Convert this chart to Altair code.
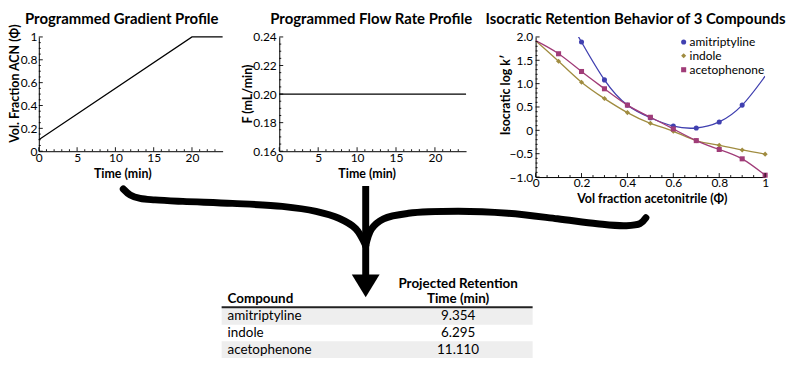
import altair as alt
import pandas as pd

FONT = "Lato"

# ---------------- data ----------------
grad_time = [0, 20, 24]
grad_phi = [0.10, 1.00, 1.00]

flow_time = [0, 24]
flow_rate = [0.20, 0.20]

compounds = ["amitriptyline", "indole", "acetophenone"]
compound_colors = ["#4040b0", "#a08c40", "#a03c78"]
compound_shapes = ["circle", "diamond", "square"]

amit_phi = [0.2, 0.3, 0.4, 0.5, 0.6, 0.7, 0.8, 0.9]
amit_logk = [1.89, 1.08, 0.54, 0.27, 0.09, 0.05, 0.18, 0.54]
indole_phi = [0.1, 0.2, 0.3, 0.4, 0.5, 0.6, 0.7, 0.8, 0.9, 1.0]
indole_logk = [1.48, 1.03, 0.68, 0.38, 0.15, -0.02, -0.22, -0.32, -0.42, -0.51]
aceto_phi = [0.1, 0.2, 0.3, 0.4, 0.5, 0.6, 0.7, 0.8, 0.9, 1.0]
aceto_logk = [1.64, 1.26, 0.89, 0.54, 0.28, 0.03, -0.22, -0.41, -0.61, -0.96]

# fitted curves (knots)
amit_fit_phi = [0.187, 0.2, 0.3, 0.4, 0.5, 0.6, 0.7, 0.8, 0.9, 1.0]
amit_fit_logk = [2.0, 1.89, 1.08, 0.54, 0.27, 0.09, 0.05, 0.18, 0.54, 1.16]
indole_fit_phi = [0.0, 0.1, 0.2, 0.3, 0.4, 0.5, 0.6, 0.7, 0.8, 0.9, 1.0]
indole_fit_logk = [1.92, 1.48, 1.03, 0.68, 0.38, 0.15, -0.02, -0.22, -0.32, -0.42, -0.51]
aceto_fit_phi = [0.0, 0.1, 0.2, 0.3, 0.4, 0.5, 0.6, 0.7, 0.8, 0.9, 1.0]
aceto_fit_logk = [1.92, 1.64, 1.26, 0.89, 0.54, 0.28, 0.03, -0.22, -0.41, -0.61, -0.96]

table_compounds = ["amitriptyline", "indole", "acetophenone"]
table_times = ["9.354", "6.295", "11.110"]

# tick positions
p1_x_major = [0, 5, 10, 15, 20]
p1_x_minor = [1, 2, 3, 4, 6, 7, 8, 9, 11, 12, 13, 14, 16, 17, 18, 19, 21, 22, 23]
p1_y_major = [0, 0.2, 0.4, 0.6, 0.8, 1.0]
p1_y_minor = [0.05, 0.1, 0.15, 0.25, 0.3, 0.35, 0.45, 0.5, 0.55, 0.65, 0.7, 0.75, 0.85, 0.9, 0.95]
p2_y_major = [0.16, 0.18, 0.20, 0.22, 0.24]
p2_y_minor = [0.165, 0.17, 0.175, 0.185, 0.19, 0.195, 0.205, 0.21, 0.215, 0.225, 0.23, 0.235]
p3_x_major = [0, 0.2, 0.4, 0.6, 0.8, 1.0]
p3_x_minor = [0.05, 0.1, 0.15, 0.25, 0.3, 0.35, 0.45, 0.5, 0.55, 0.65, 0.7, 0.75, 0.85, 0.9, 0.95]
p3_y_major = [-1.0, -0.5, 0, 0.5, 1.0, 1.5, 2.0]
p3_y_minor = [-0.9, -0.8, -0.7, -0.6, -0.4, -0.3, -0.2, -0.1, 0.1, 0.2, 0.3, 0.4,
              0.6, 0.7, 0.8, 0.9, 1.1, 1.2, 1.3, 1.4, 1.6, 1.7, 1.8, 1.9]

# brace decoration: centre-line of the two arms, in reference-pixel units
brace_left = [(123, 186), (130, 192), (140, 195.5), (155, 197), (183, 198.5), (233, 200.5),
              (283, 203.5), (317, 208.5), (340, 215.5), (357, 226), (367, 243)]
brace_right = [(367, 243), (373, 226), (385, 216), (410, 210.5), (460, 208.5), (510, 210.5),
               (560, 216), (600, 221), (628, 223), (643, 221), (649, 215)]

# ---------------- layout ----------------
W1, W2, W3 = 185, 188, 231
H1, H3 = 115, 141
GAP12, GAP23 = 57, 70
P2_LEFT, P2_TOP = 280, 33     # reference-pixel position of panel-2 plot area


def rx(xp):
    return xp - P2_LEFT


def ry(yp):
    return yp - P2_TOP


def axis(values, title, tx, ty, label_expr=None, fmt=None, pad=1):
    kw = dict(values=values, ticks=False, grid=False, domainColor="black", domainWidth=1,
              labelColor="black", labelFont=FONT, labelFontSize=12, labelPadding=pad,
              labelFlush=False, labelOverlap=False,
              title=title, titleFont=FONT, titleFontSize=12.5, titleFontWeight="bold",
              titleColor="black", titleX=tx, titleY=ty, titleBaseline="alphabetic",
              titleAlign="center")
    if label_expr:
        kw["labelExpr"] = label_expr
    if fmt:
        kw["format"] = fmt
    return alt.Axis(**kw)


def tick_layers(sx, sy, ax, ay, xmaj, xmin, ymaj, ymin, H):
    out = []
    for vals, L in ((xmaj, 4), (xmin, 2)):
        out.append(alt.Chart(pd.DataFrame({"tx": vals})).mark_rule(color="black", strokeWidth=0.9)
                   .encode(x=alt.X("tx:Q", scale=sx, axis=ax), y=alt.value(H), y2=alt.value(H - L)))
    for vals, L in ((ymaj, 4), (ymin, 2)):
        out.append(alt.Chart(pd.DataFrame({"ty": vals})).mark_rule(color="black", strokeWidth=0.9)
                   .encode(y=alt.Y("ty:Q", scale=sy, axis=ay), x=alt.value(0), x2=alt.value(L)))
    return out


one = pd.DataFrame({"k": [0]})


def panel_title(text, cx):
    return alt.Chart(one).mark_text(text=text, align="center", baseline="alphabetic", font=FONT,
                                    fontSize=15, fontWeight="bold", color="black").encode(
        x=alt.value(cx), y=alt.value(-13.5))


# ---------------- panel 1 ----------------
sx1 = alt.Scale(domain=[0, 24], nice=False, zero=False)
sy1 = alt.Scale(domain=[0, 1], nice=False, zero=False)
ax1x = axis(p1_x_major, "Time (min)", 84, 26)
ax1y = axis(p1_y_major, "Vol. Fraction ACN (Φ)", -20.5, 46.5,
            "datum.value == 0 ? '0' : datum.value == 1 ? '1' : format(datum.value, '.1f')", pad=2)
df1 = pd.DataFrame({"time": grad_time, "phi": grad_phi})
line1 = alt.Chart(df1).mark_line(color="black", strokeWidth=1.2).encode(
    x=alt.X("time:Q", scale=sx1, axis=ax1x), y=alt.Y("phi:Q", scale=sy1, axis=ax1y))
p1 = alt.layer(line1, *tick_layers(sx1, sy1, ax1x, ax1y, p1_x_major, p1_x_minor,
                                   p1_y_major, p1_y_minor, H1),
               panel_title("Programmed Gradient Profile", 83.5)
               ).properties(width=W1, height=H1)

# ---------------- panel 2 ----------------
sx2 = alt.Scale(domain=[0, 24], nice=False, zero=False)
sy2 = alt.Scale(domain=[0.16, 0.24], nice=False, zero=False)
ax2x = axis(p1_x_major, "Time (min)", 88, 26)
ax2y = axis(p2_y_major, "F (mL/min)", -28, 57, fmt=".2f", pad=3)
df2 = pd.DataFrame({"time": flow_time, "flow": flow_rate})
line2 = alt.Chart(df2).mark_line(color="black", strokeWidth=1.2).encode(
    x=alt.X("time:Q", scale=sx2, axis=ax2x), y=alt.Y("flow:Q", scale=sy2, axis=ax2y))

shaft = alt.Chart(one).mark_rule(color="black", strokeWidth=7).encode(
    x=alt.value(rx(367)), y=alt.value(ry(183)), y2=alt.value(ry(274)))
arrow_head = alt.Chart(one).mark_point(shape="M-1,-0.8214L1,-0.8214L0,0.8214Z", size=784,
                                       filled=True, color="black", opacity=1).encode(
    x=alt.value(rx(367)), y=alt.value(ry(283.5)))

p2_main = alt.layer(line2, *tick_layers(sx2, sy2, ax2x, ax2y, p1_x_major, p1_x_minor,
                                        p2_y_major, p2_y_minor, H1),
                    shaft, arrow_head, panel_title("Programmed Flow Rate Profile", 92.5))

# brace drawn as two thick smooth lines on pixel-unit scales
brace_df = pd.DataFrame({
    "arm": ["left"] * len(brace_left) + ["right"] * len(brace_right),
    "i": list(range(len(brace_left))) + list(range(len(brace_right))),
    "bx": [p[0] for p in brace_left + brace_right],
    "by": [p[1] for p in brace_left + brace_right]})
brace = alt.Chart(brace_df).mark_line(color="black", strokeWidth=7, strokeCap="round",
                                      interpolate="catmull-rom").encode(
    x=alt.X("bx:Q", scale=alt.Scale(domain=[P2_LEFT, P2_LEFT + W2], nice=False, zero=False), axis=None),
    y=alt.Y("by:Q", scale=alt.Scale(domain=[P2_TOP, P2_TOP + H1], nice=False, zero=False,
                                    reverse=True), axis=None),
    detail="arm:N", order="i:Q")

# results table
tbl = pd.DataFrame({"row": list(range(len(table_compounds))),
                    "compound": table_compounds, "time": table_times})
row_y = alt.Y("row:O", scale=alt.Scale(domain=[0, 1, 2], range=[ry(306), ry(356)],
                                       paddingInner=0, paddingOuter=0), axis=None)
bands = alt.Chart(tbl).transform_filter("datum.row % 2 == 0").mark_rect(color="#eeeeee").encode(
    y=row_y, x=alt.value(rx(222)), x2=alt.value(rx(535)))
names = alt.Chart(tbl).mark_text(align="left", baseline="middle", font=FONT, fontSize=13.5,
                                 color="black").encode(y=row_y, x=alt.value(rx(228)), text="compound:N")
times = alt.Chart(tbl).mark_text(align="center", baseline="middle", font=FONT, fontSize=13.5,
                                 color="black").encode(y=row_y, x=alt.value(rx(460)), text="time:N")


def header(text, xp, yp, align):
    return alt.Chart(one).mark_text(text=text, align=align, baseline="middle", font=FONT,
                                    fontSize=13.5, fontWeight="bold", color="black").encode(
        x=alt.value(rx(xp)), y=alt.value(ry(yp)))


hdr_rule = alt.Chart(one).mark_rule(color="#222222", strokeWidth=2).encode(
    x=alt.value(rx(222)), x2=alt.value(rx(535)), y=alt.value(ry(305)))
table_layer = alt.layer(bands, names, times, header("Compound", 228, 297, "left"),
                        header("Projected Retention", 460, 281.5, "center"),
                        header("Time (min)", 460, 297, "center"), hdr_rule)

p2 = alt.layer(p2_main, brace, table_layer).resolve_scale(
    x="independent", y="independent").properties(width=W2, height=H1)

# ---------------- panel 3 ----------------
sx3 = alt.Scale(domain=[0, 1], nice=False, zero=False)
sy3 = alt.Scale(domain=[-1, 2], nice=False, zero=False)
ax3x = axis(p3_x_major, "Vol fraction acetonitrile (Φ)", 117, 26,
            "datum.value == 0 ? '0' : datum.value == 1 ? '1' : format(datum.value, '.1f')")
ax3y = axis(p3_y_major, "Isocratic log k′", -26, 58,
            "datum.value == 0 ? '0' : format(datum.value, '.1f')", pad=3)

pts = pd.DataFrame({
    "compound": [compounds[0]] * len(amit_phi) + [compounds[1]] * len(indole_phi)
                + [compounds[2]] * len(aceto_phi),
    "phi": amit_phi + indole_phi + aceto_phi,
    "logk": amit_logk + indole_logk + aceto_logk})
fit = pd.DataFrame({
    "curve": [compounds[0]] * len(amit_fit_phi) + [compounds[1]] * len(indole_fit_phi)
             + [compounds[2]] * len(aceto_fit_phi),
    "phi": amit_fit_phi + indole_fit_phi + aceto_fit_phi,
    "logk": amit_fit_logk + indole_fit_logk + aceto_fit_logk})

curves = alt.Chart(fit).mark_line(strokeWidth=1.3, interpolate="natural", clip=True).encode(
    x=alt.X("phi:Q", scale=sx3, axis=ax3x), y=alt.Y("logk:Q", scale=sy3, axis=ax3y),
    stroke=alt.Stroke("curve:N", scale=alt.Scale(domain=compounds, range=compound_colors),
                      legend=None))
points = alt.Chart(pts).mark_point(filled=True, opacity=1, size=26).encode(
    x=alt.X("phi:Q", scale=sx3, axis=ax3x), y=alt.Y("logk:Q", scale=sy3, axis=ax3y),
    color=alt.Color("compound:N", scale=alt.Scale(domain=compounds, range=compound_colors),
                    legend=None),
    shape=alt.Shape("compound:N", scale=alt.Scale(domain=compounds, range=compound_shapes),
                    legend=None))

# in-plot legend (key entries stacked from the top-right corner)
legend_marks = []
for i, (name, col, shp) in enumerate(zip(compounds, compound_colors, compound_shapes)):
    ly = 5 + 14 * i
    legend_marks.append(alt.Chart(one).mark_point(shape=shp, filled=True, color=col, opacity=1,
                                                  size=26).encode(x=alt.value(149), y=alt.value(ly)))
    legend_marks.append(alt.Chart(one).mark_text(text=name, align="left", baseline="middle",
                                                 font=FONT, fontSize=12, color="black").encode(
        x=alt.value(155), y=alt.value(ly)))

p3 = alt.layer(curves, points, *tick_layers(sx3, sy3, ax3x, ax3y, p3_x_major, p3_x_minor,
                                            p3_y_major, p3_y_minor, H3),
               *legend_marks,
               panel_title("Isocratic Retention Behavior of 3 Compounds", 100.5)
               ).properties(width=W3, height=H3)


def spacer(w):
    return alt.Chart(one).mark_point(opacity=0).encode(
        x=alt.value(0), y=alt.value(0)).properties(width=w, height=H1)


chart = alt.hconcat(p1, spacer(GAP12), p2, spacer(GAP23), p3, spacing=0, bounds="flush").properties(
    padding={"left": 0, "top": 2, "right": 0, "bottom": 0}
).configure(font=FONT).configure_view(stroke=None)

chart.save("out.html", embed_options={"renderer": "svg", "actions": False})
